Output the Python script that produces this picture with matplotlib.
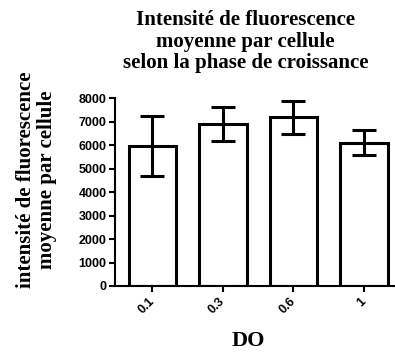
import numpy as np
import matplotlib.pyplot as plt

# DO values and mean fluorescence per cell (mean +/- SD)
do_labels = ['0.1', '0.3', '0.6', '1']
moyenne = [5980, 6910, 7190, 6110]
ecart = [1280, 735, 705, 535]

serif = ['Liberation Serif', 'DejaVu Serif']
sans = ['Liberation Sans', 'DejaVu Sans']

fig = plt.figure(figsize=(3.95, 3.52), dpi=100)
ax = fig.add_axes([0.291, 0.1875, 0.709, 0.533])

x = np.arange(len(do_labels))
ax.bar(x, moyenne, width=0.67, color='white', edgecolor='black', linewidth=2.2, zorder=2)
ax.errorbar(x, moyenne, yerr=ecart, fmt='none', ecolor='black', elinewidth=2.2,
            capsize=8.6, capthick=2.2, zorder=3)

ax.set_xlim(-0.53, 3.44)
ax.set_ylim(0, 8000)
ax.set_yticks(np.arange(0, 8001, 1000))
ax.set_xticks(x)
ax.set_xticklabels(do_labels, rotation=45, ha='right', va='center', rotation_mode='anchor')

for s in ['top', 'right']:
    ax.spines[s].set_visible(False)
for s in ['left', 'bottom']:
    ax.spines[s].set_linewidth(1.5)

ax.tick_params(axis='both', direction='out', length=4, width=1.5, pad=2)
ax.tick_params(axis='x', pad=6)
for lab in ax.get_yticklabels() + ax.get_xticklabels():
    lab.set_fontfamily(sans)
    lab.set_fontweight('bold')
    lab.set_fontsize(9)

# axis titles and main title
fig.text(0.628, 0.032, 'DO', fontfamily=serif, fontweight='bold', fontsize=16,
         ha='center', va='center')
fig.text(0.093, 0.489, 'intensité de fluorescence\nmoyenne par cellule', fontfamily=serif,
         fontweight='bold', fontsize=15, rotation=90, ha='center', va='center',
         multialignment='center', linespacing=1.1)
fig.text(0.622, 0.972, 'Intensité de fluorescence\nmoyenne par cellule\nselon la phase de croissance',
         fontfamily=serif, fontweight='bold', fontsize=15, ha='center', va='top',
         multialignment='center', linespacing=1.12)

fig.savefig('out.png', dpi=100)
